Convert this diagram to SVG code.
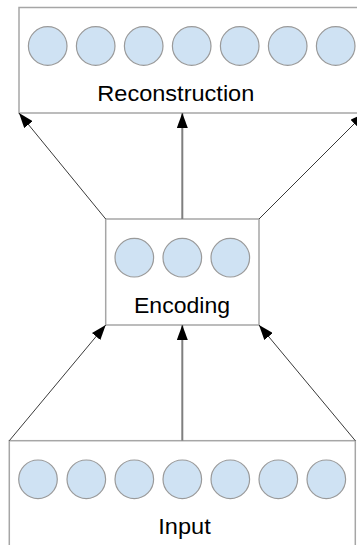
<svg xmlns="http://www.w3.org/2000/svg" width="357" height="545" viewBox="0 0 357 545">
  <style>
    .box { fill: #ffffff; stroke: #a6a6a6; stroke-width: 1.5; }
    .unit { fill: #cfe2f3; stroke: #9a9a9a; stroke-width: 1.2; }
    .label { font-family: "Liberation Sans", Arial, sans-serif; font-size: 21.5px; fill: #000000; }
    .diag { stroke: #3a3a3a; stroke-width: 1; fill: none; }
    .vert { stroke: #7f7f7f; stroke-width: 2; fill: none; }
  </style>
  <defs>
    <marker id="arrow" viewBox="0 0 15 11" refX="15" refY="5.5" markerWidth="15" markerHeight="11" markerUnits="userSpaceOnUse" orient="auto">
      <path d="M0,0 L15,5.5 L0,11 Z" fill="#000000"/>
    </marker>
  </defs>

  <!-- output layer -->
  <g id="reconstruction">
    <rect class="box" x="19" y="7.5" width="346" height="105.5"/>
    <circle class="unit" cx="47.7" cy="46" r="19.3"/>
    <circle class="unit" cx="95.7" cy="46" r="19.3"/>
    <circle class="unit" cx="143.7" cy="46" r="19.3"/>
    <circle class="unit" cx="191.7" cy="46" r="19.3"/>
    <circle class="unit" cx="239.7" cy="46" r="19.3"/>
    <circle class="unit" cx="287.7" cy="46" r="19.3"/>
    <circle class="unit" cx="335.7" cy="46" r="19.3"/>
    <text class="label" x="97.3" y="101" textLength="157" lengthAdjust="spacingAndGlyphs">Reconstruction</text>
  </g>

  <!-- bottleneck layer -->
  <g id="encoding">
    <rect class="box" x="105.7" y="219" width="153.3" height="106"/>
    <circle class="unit" cx="134.3" cy="257.7" r="19.3"/>
    <circle class="unit" cx="182.3" cy="257.7" r="19.3"/>
    <circle class="unit" cx="230.3" cy="257.7" r="19.3"/>
    <text class="label" x="134" y="313" textLength="96" lengthAdjust="spacingAndGlyphs">Encoding</text>
  </g>

  <!-- input layer -->
  <g id="input">
    <rect class="box" x="9.3" y="440.7" width="346" height="120"/>
    <circle class="unit" cx="38" cy="479.3" r="19.3"/>
    <circle class="unit" cx="86.3" cy="479.3" r="19.3"/>
    <circle class="unit" cx="134.3" cy="479.3" r="19.3"/>
    <circle class="unit" cx="182.3" cy="479.3" r="19.3"/>
    <circle class="unit" cx="230.3" cy="479.3" r="19.3"/>
    <circle class="unit" cx="278.3" cy="479.3" r="19.3"/>
    <circle class="unit" cx="326.3" cy="479.3" r="19.3"/>
    <text class="label" x="158.3" y="534" textLength="52.4" lengthAdjust="spacingAndGlyphs">Input</text>
  </g>

  <!-- connectors -->
  <g id="connectors">
    <line class="diag" x1="105.7" y1="219" x2="19" y2="113" marker-end="url(#arrow)"/>
    <line class="vert" x1="182.3" y1="219" x2="182.3" y2="113" marker-end="url(#arrow)"/>
    <line class="diag" x1="259" y1="219" x2="365" y2="113" marker-end="url(#arrow)"/>
    <line class="diag" x1="9.3" y1="440.7" x2="105.7" y2="325" marker-end="url(#arrow)"/>
    <line class="vert" x1="182.3" y1="440.7" x2="182.3" y2="325" marker-end="url(#arrow)"/>
    <line class="diag" x1="355.3" y1="440.7" x2="259" y2="325" marker-end="url(#arrow)"/>
  </g>
</svg>
